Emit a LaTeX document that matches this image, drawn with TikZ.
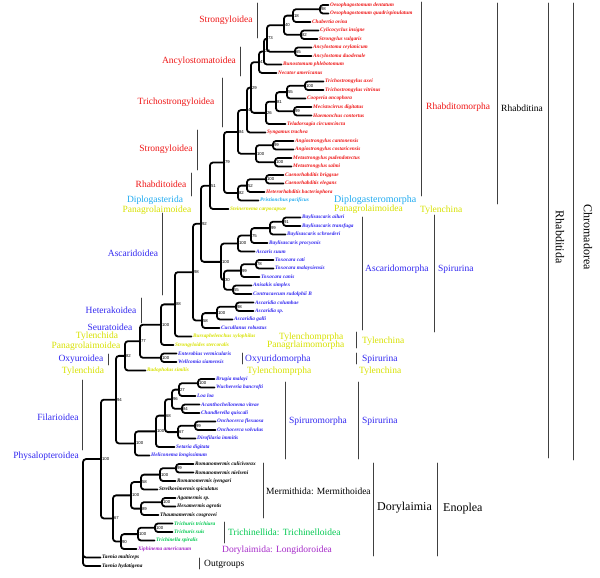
\documentclass[tikz,border=0pt]{standalone}
\usepackage{fontspec}
\setmainfont{Liberation Serif}
\newfontfamily\bsfont{Liberation Sans}
\definecolor{rd}{RGB}{238,22,22}
\definecolor{bl}{RGB}{50,40,240}
\definecolor{cy}{RGB}{30,170,240}
\definecolor{yl}{RGB}{215,225,0}
\definecolor{gr}{RGB}{0,200,80}
\definecolor{pu}{RGB}{165,40,200}
\begin{document}
\begin{tikzpicture}[x=1pt, y=-1pt, line join=round, line cap=round,
  br/.style={line width=1.8pt, rounded corners=3pt},
  tx/.style={anchor=west, inner xsep=1.5pt, inner ysep=0pt, font=\fontsize{5.3}{6}\selectfont\bfseries\itshape},
  bs/.style={anchor=west, inner sep=0.9pt, font=\bsfont\fontsize{4.3}{5}\selectfont},
  bar/.style={line width=0.9pt, black!75},
  grp/.style={inner sep=0pt, font=\fontsize{9.5}{10}\selectfont},
  gw/.style={grp, anchor=west},
  big/.style={inner sep=0pt, font=\fontsize{12}{13}\selectfont}]
\useasboundingbox (0,0) rectangle (600,578);
\begin{scope}[y=-8.5pt, yshift=-5pt]
\node[tx,rd] (t0) at (328.5,0) {Oesophagostomum dentatum};
\node[tx,rd] (t1) at (328.5,1) {Oesophagostomum quadrispinulatum};
\node[tx,rd] (t2) at (310.5,2) {Chabertia ovina};
\node[tx,rd] (t3) at (318.5,3) {Cylicocyclus insigne};
\node[tx,rd] (t4) at (317.5,4) {Strongylus vulgaris};
\node[tx,rd] (t5) at (311.5,5) {Ancylostoma ceylanicum};
\node[tx,rd] (t6) at (311.5,6) {Ancylostoma duodenale};
\node[tx,rd] (t7) at (281.5,7) {Bunostomum phlebotomum};
\node[tx,rd] (t8) at (276.5,8) {Necator americanus};
\node[tx,rd] (t9) at (323.5,9) {Trichostrongylus axei};
\node[tx,rd] (t10) at (323.5,10) {Trichostrongylus vitrinus};
\node[tx,rd] (t11) at (305.5,11) {Cooperia oncophora};
\node[tx,rd] (t12) at (311.5,12) {Mecistocirrus digitatus};
\node[tx,rd] (t13) at (311.5,13) {Haemonchus contortus};
\node[tx,rd] (t14) at (285.5,14) {Teladorsagia circumcincta};
\node[tx,rd] (t15) at (265.5,15) {Syngamus trachea};
\node[tx,rd] (t16) at (293.5,16) {Angiostrongylus cantonensis};
\node[tx,rd] (t17) at (293.5,17) {Angiostrongylus costaricensis};
\node[tx,rd] (t18) at (291.5,18) {Metastrongylus pudendotectus};
\node[tx,rd] (t19) at (291.5,19) {Metastrongylus salmi};
\node[tx,rd] (t20) at (283.5,20) {Caenorhabditis briggsae};
\node[tx,rd] (t21) at (283.5,21) {Caenorhabditis elegans};
\node[tx,rd] (t22) at (264.5,22) {Heterorhabditis bacteriophora};
\node[tx,cy] (t23) at (258.5,23) {Pristionchus pacificus};
\node[tx,yl] (t24) at (228.5,24) {Steinernema carpocapsae};
\node[tx,bl] (t25) at (300.5,25) {Baylisascaris ailuri};
\node[tx,bl] (t26) at (300.5,26) {Baylisascaris transfuga};
\node[tx,bl] (t27) at (285.5,27) {Baylisascaris schroederi};
\node[tx,bl] (t28) at (267.5,28) {Baylisascaris procyonis};
\node[tx,bl] (t29) at (254.5,29) {Ascaris suum};
\node[tx,bl] (t30) at (273.5,30) {Toxocara cati};
\node[tx,bl] (t31) at (273.5,31) {Toxocara malaysiensis};
\node[tx,bl] (t32) at (259.5,32) {Toxocara canis};
\node[tx,bl] (t33) at (251.5,33) {Anisakis simplex};
\node[tx,bl] (t34) at (251.5,34) {Contracaecum rudolphii B};
\node[tx,bl] (t35) at (253.5,35) {Ascaridia columbae};
\node[tx,bl] (t36) at (253.5,36) {Ascaridia sp.};
\node[tx,bl] (t37) at (232.5,37) {Ascaridia galli};
\node[tx,bl] (t38) at (219.5,38) {Cucullanus robustus};
\node[tx,yl] (t39) at (191.5,39) {Bursaphelenchus xylophilus};
\node[tx,yl] (t40) at (173.5,40) {Strongyloides stercoralis};
\node[tx,bl] (t41) at (176.5,41) {Enterobius vermicularis};
\node[tx,bl] (t42) at (176.5,42) {Wellcomia siamensis};
\node[tx,yl] (t43) at (145.5,43) {Radopholus similis};
\node[tx,bl] (t44) at (214.5,44) {Brugia malayi};
\node[tx,bl] (t45) at (214.5,45) {Wuchereria bancrofti};
\node[tx,bl] (t46) at (195.5,46) {Loa loa};
\node[tx,bl] (t47) at (199.5,47) {Acanthocheilonema viteae};
\node[tx,bl] (t48) at (199.5,48) {Chandlerella quiscali};
\node[tx,bl] (t49) at (215.5,49) {Onchocerca flexuosa};
\node[tx,bl] (t50) at (215.5,50) {Onchocerca volvulus};
\node[tx,bl] (t51) at (195.5,51) {Dirofilaria immitis};
\node[tx,bl] (t52) at (174.5,52) {Setaria digitata};
\node[tx,bl] (t53) at (149.5,53) {Heliconema longissimum};
\node[tx] (t54) at (193.5,54) {Romanomermis culicivorax};
\node[tx] (t55) at (193.5,55) {Romanomermis nielseni};
\node[tx] (t56) at (175.5,56) {Romanomermis iyengari};
\node[tx] (t57) at (157.5,57) {Strelkovimermis spiculatus};
\node[tx] (t58) at (175.5,58) {Agamermis sp.};
\node[tx] (t59) at (175.5,59) {Hexamermis agrotis};
\node[tx] (t60) at (158.5,60) {Thaumamermis cosgrovei};
\node[tx,gr] (t61) at (172.5,61) {Trichuris trichiura};
\node[tx,gr] (t62) at (172.5,62) {Trichuris suis};
\node[tx,gr] (t63) at (154.5,63) {Trichinella spiralis};
\node[tx,pu] (t64) at (136.5,64) {Xiphinema americanum};
\node[tx] (t65) at (100.5,65) {Taenia multiceps};
\node[tx] (t66) at (100.5,66) {Taenia hydatigena};

\node[bs] (n1) at (320,0.5) {98};
\node[bs] (n2) at (293,1.25) {18};
\node[bs] (n3) at (301,3.5) {82};
\node[bs] (n4) at (284,2.375) {40};
\node[bs] (n5) at (295,5.5) {65};
\node[bs] (n6) at (267,3.9375) {73};
\node[bs] (n7) at (264,5.47) {28};
\node[bs] (n8) at (259,6.73) {41};
\node[bs] (n9) at (305,9.5) {100};
\node[bs] (n10) at (287,10.25) {55};
\node[bs] (n11) at (294,12.5) {99};
\node[bs] (n12) at (276,11.375) {81};
\node[bs] (n13) at (266,12.69) {26};
\node[bs] (n14) at (251,9.71) {29};
\node[bs] (n15) at (247,12.36) {4};
\node[bs] (n16) at (273,16.5) {99};
\node[bs] (n17) at (275,18.5) {100};
\node[bs] (n18) at (256,17.5) {100};
\node[bs] (n19) at (238,14.93) {84};
\node[bs] (n20) at (266,20.5) {100};
\node[bs] (n21) at (247,21.25) {52};
\node[bs] (n22) at (238,22.125) {82};
\node[bs] (n23) at (224,18.53) {79};
\node[bs] (n24) at (210,21.27) {51};
\node[bs] (n25) at (283,25.5) {91};
\node[bs] (n26) at (270,26.25) {99};
\node[bs] (n27) at (251,27.125) {75};
\node[bs] (n28) at (238,28.06) {100};
\node[bs] (n29) at (256,30.5) {78};
\node[bs] (n30) at (241,31.25) {99};
\node[bs] (n31) at (233,33.5) {55};
\node[bs] (n32) at (224,32.375) {30};
\node[bs] (n33) at (221,30.22) {100};
\node[bs] (n34) at (201,25.74) {92};
\node[bs] (n35) at (236,35.5) {98};
\node[bs] (n36) at (217,36.25) {100};
\node[bs] (n37) at (202,37.125) {58};
\node[bs] (n38) at (193,31.43) {98};
\node[bs] (n39) at (175,35.22) {88};
\node[bs] (n40) at (161,37.61) {100};
\node[bs] (n41) at (161,41.5) {100};
\node[bs] (n42) at (140,39.55) {77};
\node[bs] (n43) at (125,41.28) {82};
\node[bs] (n44) at (198,44.5) {100};
\node[bs] (n45) at (179,45.25) {27};
\node[bs] (n46) at (182,47.5) {84};
\node[bs] (n47) at (172,46.375) {96};
\node[bs] (n48) at (195,49.5) {99};
\node[bs] (n49) at (178,50.25) {67};
\node[bs] (n50) at (165,48.31) {68};
\node[bs] (n51) at (156,50.16) {100};
\node[bs] (n52) at (135,51.58) {100};
\node[bs] (n53) at (116,46.43) {94};
\node[bs] (n54) at (176,54.5) {99};
\node[bs] (n55) at (160,55.25) {100};
\node[bs] (n56) at (141,56.125) {58};
\node[bs] (n57) at (162,58.5) {100};
\node[bs] (n58) at (141,59.25) {89};
\node[bs] (n59) at (131,57.69) {100};
\node[bs] (n60) at (155,61.5) {100};
\node[bs] (n61) at (138,62.25) {100};
\node[bs] (n62) at (121,63.125) {90};
\node[bs] (n63) at (113,60.41) {67};
\node[bs] (n64) at (101,53.42) {100};
\coordinate (root) at (83,59.71);

\draw[br] (n1.west) |- (t0.west) (n1.west) |- (t1.west);
\draw[br] (n2.west) |- (n1.west) (n2.west) |- (t2.west);
\draw[br] (n3.west) |- (t3.west) (n3.west) |- (t4.west);
\draw[br] (n4.west) |- (n2.west) (n4.west) |- (n3.west);
\draw[br] (n5.west) |- (t5.west) (n5.west) |- (t6.west);
\draw[br] (n6.west) |- (n4.west) (n6.west) |- (n5.west);
\draw[br] (n7.west) |- (n6.west) (n7.west) |- (t7.west);
\draw[br] (n8.west) |- (n7.west) (n8.west) |- (t8.west);
\draw[br] (n9.west) |- (t9.west) (n9.west) |- (t10.west);
\draw[br] (n10.west) |- (n9.west) (n10.west) |- (t11.west);
\draw[br] (n11.west) |- (t12.west) (n11.west) |- (t13.west);
\draw[br] (n12.west) |- (n10.west) (n12.west) |- (n11.west);
\draw[br] (n13.west) |- (n12.west) (n13.west) |- (t14.west);
\draw[br] (n14.west) |- (n8.west) (n14.west) |- (n13.west);
\draw[br] (n15.west) |- (n14.west) (n15.west) |- (t15.west);
\draw[br] (n16.west) |- (t16.west) (n16.west) |- (t17.west);
\draw[br] (n17.west) |- (t18.west) (n17.west) |- (t19.west);
\draw[br] (n18.west) |- (n16.west) (n18.west) |- (n17.west);
\draw[br] (n19.west) |- (n15.west) (n19.west) |- (n18.west);
\draw[br] (n20.west) |- (t20.west) (n20.west) |- (t21.west);
\draw[br] (n21.west) |- (n20.west) (n21.west) |- (t22.west);
\draw[br] (n22.west) |- (n21.west) (n22.west) |- (t23.west);
\draw[br] (n23.west) |- (n19.west) (n23.west) |- (n22.west);
\draw[br] (n24.west) |- (n23.west) (n24.west) |- (t24.west);
\draw[br] (n25.west) |- (t25.west) (n25.west) |- (t26.west);
\draw[br] (n26.west) |- (n25.west) (n26.west) |- (t27.west);
\draw[br] (n27.west) |- (n26.west) (n27.west) |- (t28.west);
\draw[br] (n28.west) |- (n27.west) (n28.west) |- (t29.west);
\draw[br] (n29.west) |- (t30.west) (n29.west) |- (t31.west);
\draw[br] (n30.west) |- (n29.west) (n30.west) |- (t32.west);
\draw[br] (n31.west) |- (t33.west) (n31.west) |- (t34.west);
\draw[br] (n32.west) |- (n30.west) (n32.west) |- (n31.west);
\draw[br] (n33.west) |- (n28.west) (n33.west) |- (n32.west);
\draw[br] (n34.west) |- (n24.west) (n34.west) |- (n33.west);
\draw[br] (n35.west) |- (t35.west) (n35.west) |- (t36.west);
\draw[br] (n36.west) |- (n35.west) (n36.west) |- (t37.west);
\draw[br] (n37.west) |- (n36.west) (n37.west) |- (t38.west);
\draw[br] (n38.west) |- (n34.west) (n38.west) |- (n37.west);
\draw[br] (n39.west) |- (n38.west) (n39.west) |- (t39.west);
\draw[br] (n40.west) |- (n39.west) (n40.west) |- (t40.west);
\draw[br] (n41.west) |- (t41.west) (n41.west) |- (t42.west);
\draw[br] (n42.west) |- (n40.west) (n42.west) |- (n41.west);
\draw[br] (n43.west) |- (n42.west) (n43.west) |- (t43.west);
\draw[br] (n44.west) |- (t44.west) (n44.west) |- (t45.west);
\draw[br] (n45.west) |- (n44.west) (n45.west) |- (t46.west);
\draw[br] (n46.west) |- (t47.west) (n46.west) |- (t48.west);
\draw[br] (n47.west) |- (n45.west) (n47.west) |- (n46.west);
\draw[br] (n48.west) |- (t49.west) (n48.west) |- (t50.west);
\draw[br] (n49.west) |- (n48.west) (n49.west) |- (t51.west);
\draw[br] (n50.west) |- (n47.west) (n50.west) |- (n49.west);
\draw[br] (n51.west) |- (n50.west) (n51.west) |- (t52.west);
\draw[br] (n52.west) |- (n51.west) (n52.west) |- (t53.west);
\draw[br] (n53.west) |- (n43.west) (n53.west) |- (n52.west);
\draw[br] (n54.west) |- (t54.west) (n54.west) |- (t55.west);
\draw[br] (n55.west) |- (n54.west) (n55.west) |- (t56.west);
\draw[br] (n56.west) |- (n55.west) (n56.west) |- (t57.west);
\draw[br] (n57.west) |- (t58.west) (n57.west) |- (t59.west);
\draw[br] (n58.west) |- (n57.west) (n58.west) |- (t60.west);
\draw[br] (n59.west) |- (n56.west) (n59.west) |- (n58.west);
\draw[br] (n60.west) |- (t61.west) (n60.west) |- (t62.west);
\draw[br] (n61.west) |- (n60.west) (n61.west) |- (t63.west);
\draw[br] (n62.west) |- (n61.west) (n62.west) |- (t64.west);
\draw[br] (n63.west) |- (n59.west) (n63.west) |- (n62.west);
\draw[br] (n64.west) |- (n53.west) (n64.west) |- (n63.west);
\draw[br] (root) |- (n64.west) (root) |- (t65.west) (root) |- (t66.west);
\end{scope}

\draw[bar] (257,3)--(257,38) (240,47)--(240,76) (222,78)--(222,127)
  (197,130)--(197,170) (191,173)--(191,196) (162,213)--(162,295)
  (141,298)--(141,323) (108,354)--(108,365) (82,380)--(82,450);
\draw[bar] (421,2)--(421,196) (497,3)--(497,204) (548,3)--(548,458)
  (573,3)--(573,460) (362,217)--(362,330) (434,215)--(434,332)
  (356,332)--(356,348) (242,353)--(242,364) (356,353)--(356,364)
  (285,382)--(285,459) (358,382)--(358,459) (263,463)--(263,518)
  (224,522)--(224,543) (199,558)--(199,569) (373,463)--(373,556)
  (437,463)--(437,556);

\node[grp,rd] (l1) at (226,20) {Strongyloidea};
\node[grp,rd] (l2) at (199,61) {Ancylostomatoidea};
\node[grp,rd] (l3) at (176,102) {Trichostrongyloidea};
\node[grp,rd] (l4) at (166,149) {Strongyloidea};
\node[grp,rd] (l5) at (161,184) {Rhabditoidea};
\node[grp,cy] (l6) at (155,200) {Diplogasterida};
\node[grp,yl] (l7) at (157,210) {Panagrolaimoidea};
\node[grp,bl] (l8) at (133,253) {Ascaridoidea};
\node[grp,bl] (l9) at (111,310) {Heterakoidea};
\node[grp,bl] (l10) at (110,327) {Seuratoidea};
\node[grp,yl] (l11) at (97,336) {Tylenchida};
\node[grp,yl] (l12) at (86,346) {Panagrolaimoidea};
\node[grp,bl] (l13) at (81,359) {Oxyuroidea};
\node[grp,yl] (l14) at (83,371) {Tylenchida};
\node[grp,bl] (l15) at (58,417) {Filarioidea};
\node[grp,bl] (l16) at (46,456) {Physalopteroidea};

\node[gw,rd] (r1) at (426,107) {Rhabditomorpha};
\node[gw] (r2) at (501,108) {Rhabditina};
\node[gw,cy,font=\fontsize{10}{11}\selectfont] (r3) at (334,200) {Diplogasteromorpha};
\node[gw,yl] (r4) at (334,209) {Panagrolaimoidea};
\node[gw,yl] (r5) at (420,210) {Tylenchina};
\node[gw,bl] (r6) at (365,269) {Ascaridomorpha};
\node[gw,bl] (r7) at (438,269) {Spirurina};
\node[gw,yl] (r8) at (279,337) {Tylenchomprpha};
\node[gw,yl] (r9) at (267,345) {Panagrlaimomorpha};
\node[gw,yl] (r10) at (362,341) {Tylenchina};
\node[gw,bl] (r11) at (245,359) {Oxyuridomorpha};
\node[gw,bl] (r12) at (362,359) {Spirurina};
\node[gw,yl] (r13) at (247,371) {Tylenchomprpha};
\node[gw,yl] (r14) at (359,371) {Tylenchina};
\node[gw,bl] (r15) at (289,421) {Spiruromorpha};
\node[gw,bl] (r16) at (362,421) {Spirurina};
\node[gw] (r17) at (266,491) {Mermithida: Mermithoidea};
\node[gw,gr] (r18) at (228,532) {Trichinellida: Trichinelloidea};
\node[gw,pu] (r19) at (222,550) {Dorylaimida: Longidoroidea};
\node[gw] (r20) at (204,564) {Outgroups};
\node[big,anchor=west] (r21) at (377,508) {Dorylaimia};
\node[big,anchor=west] (r22) at (443,509) {Enoplea};
\node[big,rotate=-90] (r23) at (560,237) {Rhabditida};
\node[big,rotate=-90] (r24) at (588,237) {Chromadorea};
\end{tikzpicture}
\end{document}
